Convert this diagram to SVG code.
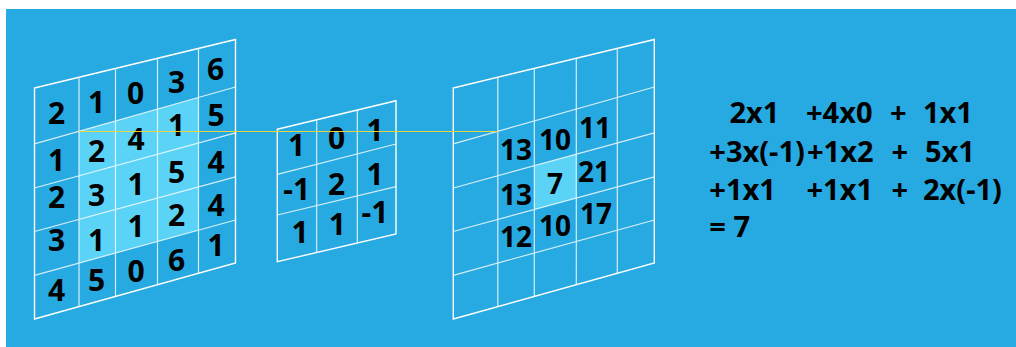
<svg xmlns="http://www.w3.org/2000/svg" xmlns:xlink="http://www.w3.org/1999/xlink" width="1016" height="347" viewBox="0 0 1016 347">
  <style>
    .bg { fill: #27a9e1; }
    .hl { fill: #5ad3f7; }
    .border { fill: none; stroke: #ffffff; stroke-width: 1.4; }
    .inner { fill: none; stroke: #ffffff; stroke-opacity: 0.8; stroke-width: 1.2; }
    .num { font-family: "Open Sans", "Noto Sans", sans-serif; font-weight: 700; font-size: 30px; fill: #000; text-anchor: middle; }
    .num2 { font-family: "Open Sans", "Noto Sans", sans-serif; font-weight: 700; font-size: 28px; fill: #000; text-anchor: middle; }
    .eq { font-family: "Open Sans", "Noto Sans", sans-serif; font-weight: 700; font-size: 29px; fill: #000; }
    .link { stroke: #e8d43c; stroke-width: 1.2; fill: none; }
  </style>
  <defs>
    <g id="grid5">
      <path class="inner" d="M0 143.8 L201 87 M0 188 L201 132.8 M0 231.5 L201 176.8 M0 275.3 L201 220 M44.5 77.3 L44.5 306.6 M81 68.5 L81 296.4 M123 58.3 L123 284.7 M164 48.4 L164 273.3"/>
      <path class="border" d="M0 88 L201 39.5 L201 263 L0 319 Z"/>
    </g>
  </defs>
  <rect class="bg" x="6" y="9" width="1010" height="338"/>

  <g id="input-grid">
    <polygon class="hl" points="79,131.2 198.5,97.45 198.5,230.2 79,263.05"/>
    <use xlink:href="#grid5" href="#grid5" transform="translate(34.5,0)"/>
    <text class="num" x="56.7" y="123.5">2</text>
    <text class="num" x="96.7" y="113">1</text>
    <text class="num" x="135.5" y="103.5">0</text>
    <text class="num" x="176.7" y="92.5">3</text>
    <text class="num" x="215.5" y="79.5">6</text>
    <text class="num" x="56.7" y="170.5">1</text>
    <text class="num" x="96.7" y="162">2</text>
    <text class="num" x="136" y="149.5">4</text>
    <text class="num" x="176.7" y="136">1</text>
    <text class="num" x="216" y="126">5</text>
    <text class="num" x="56.7" y="208">2</text>
    <text class="num" x="96.7" y="206">3</text>
    <text class="num" x="136" y="194.5">1</text>
    <text class="num" x="176.7" y="183">5</text>
    <text class="num" x="216" y="173">4</text>
    <text class="num" x="56.7" y="251">3</text>
    <text class="num" x="96.7" y="250.5">1</text>
    <text class="num" x="136" y="237">1</text>
    <text class="num" x="176.7" y="226">2</text>
    <text class="num" x="216" y="216">4</text>
    <text class="num" x="56.7" y="301">4</text>
    <text class="num" x="96.7" y="291">5</text>
    <text class="num" x="136" y="282">0</text>
    <text class="num" x="176.7" y="270.5">6</text>
    <text class="num" x="216" y="256">1</text>
  </g>

  <g id="kernel-grid">
    <path class="inner" d="M277.3 174.3 L396 144 M277.3 215 L396 186.7 M316.7 119.8 L316.7 252.5 M357.3 110 L357.3 243"/>
    <path class="border" d="M277.3 129.3 L396 100.7 L396 234 L277.3 261.7 Z"/>
    <text class="num" x="296.7" y="156">1</text>
    <text class="num" x="336.7" y="148.5">0</text>
    <text class="num" x="375" y="140.5">1</text>
    <text class="num" x="296.7" y="199.5">-1</text>
    <text class="num" x="336.7" y="195">2</text>
    <text class="num" x="375" y="184.5">1</text>
    <text class="num" x="300" y="243">1</text>
    <text class="num" x="337.3" y="235">1</text>
    <text class="num" x="375" y="223">-1</text>
  </g>

  <g id="output-grid">
    <polygon class="hl" points="534.3,165.75 576.3,154.2 576.3,198 534.3,209.46"/>
    <use xlink:href="#grid5" href="#grid5" transform="translate(453.3,0)"/>
    <text class="num2" x="516" y="160">13</text>
    <text class="num2" x="555" y="149.5">10</text>
    <text class="num2" x="595" y="137.5">11</text>
    <text class="num2" x="516" y="205">13</text>
    <text class="num2" x="555" y="193.5">7</text>
    <text class="num2" x="594" y="182">21</text>
    <text class="num2" x="516" y="247">12</text>
    <text class="num2" x="555" y="236">10</text>
    <text class="num2" x="596" y="224">17</text>
  </g>

  <g id="connectors">
    <line class="link" x1="79" y1="131.5" x2="498" y2="131.5"/>
  </g>

  <g id="equation">
    <text class="eq" y="123.3"><tspan x="729.5">2x1</tspan><tspan x="806">+4x0</tspan><tspan x="890">+</tspan><tspan x="923">1x1</tspan></text>
    <text class="eq" y="161.7"><tspan x="709.3">+3x(-1)</tspan><tspan x="807">+1x2</tspan><tspan x="891.5">+</tspan><tspan x="925">5x1</tspan></text>
    <text class="eq" y="200"><tspan x="709.3">+1x1</tspan><tspan x="806.5">+1x1</tspan><tspan x="891.5">+</tspan><tspan x="923">2x(-1)</tspan></text>
    <text class="eq" x="709.3" y="236.7">= 7</text>
  </g>
</svg>
